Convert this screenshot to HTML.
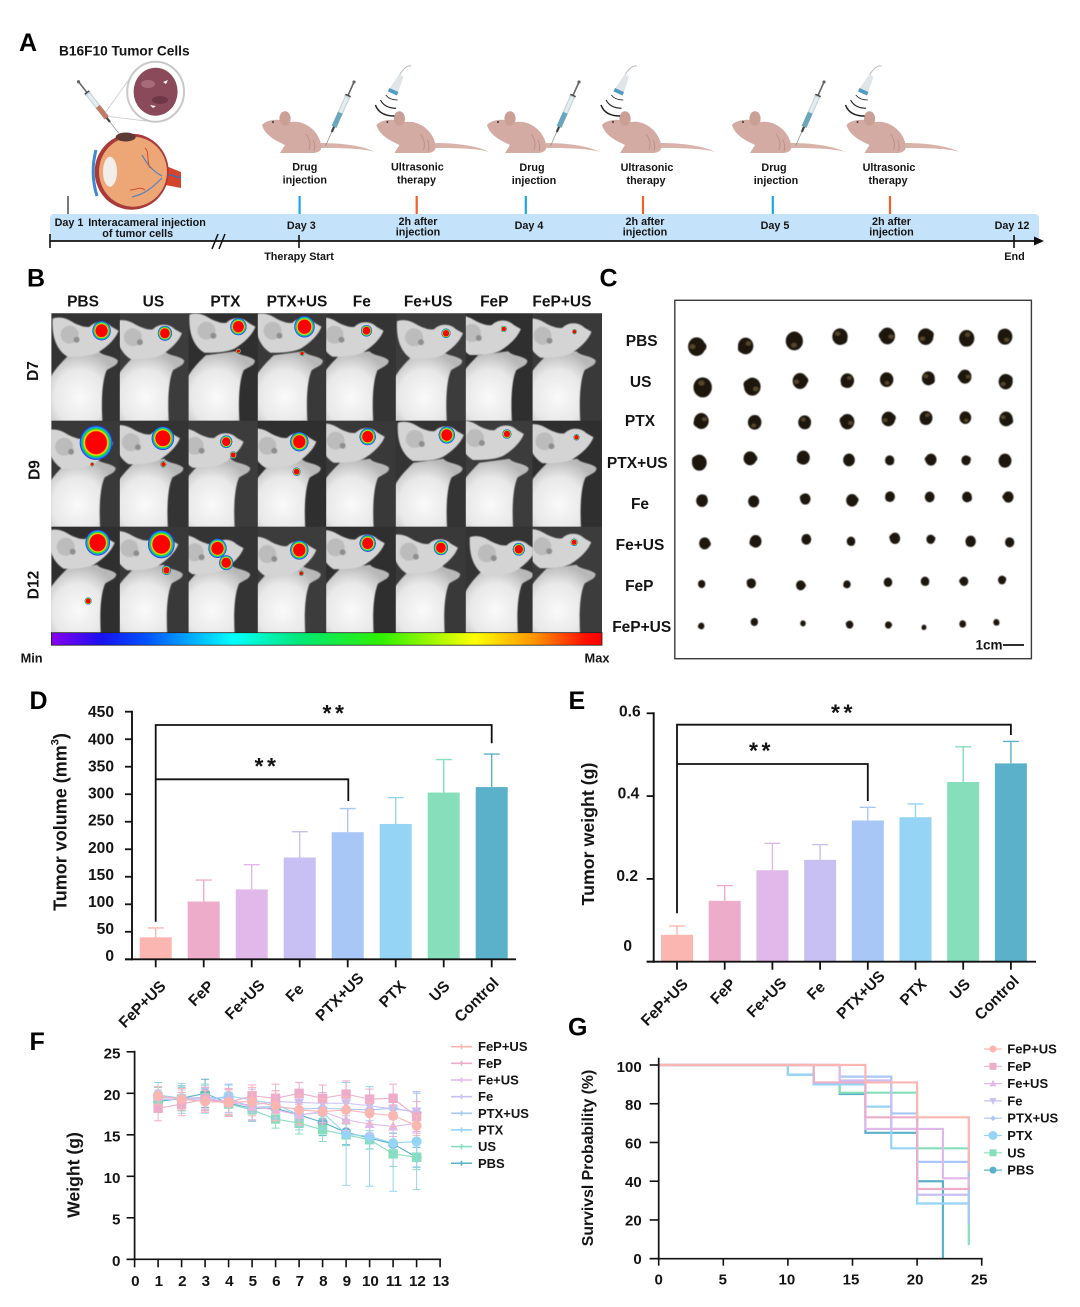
<!DOCTYPE html>
<html lang="en">
<head>
<meta charset="utf-8">
<title>Tumor therapy figure panels A-G</title>
<style>
  html, body { margin: 0; padding: 0; background: #fff; }
  #figure { display: block; width: 1080px; height: 1307px; }
  text { font-family: "Liberation Sans", sans-serif; font-weight: bold; fill: #141414; }
  .panel { font-size: 25px; fill: #000; }
  .tl { font-size: 10.8px; text-anchor: middle; dominant-baseline: central; }
  .hdr { font-size: 15.5px; text-anchor: middle; dominant-baseline: central; }
</style>
</head>
<body>
<svg id="figure" xmlns="http://www.w3.org/2000/svg" width="1080" height="1307" viewBox="0 0 1080 1307">
  <defs>
    <filter id="soft" x="-10%" y="-10%" width="120%" height="120%"><feGaussianBlur stdDeviation="0.6"/></filter>
    <radialGradient id="mouseBody" cx="0.45" cy="0.62" r="0.62">
      <stop offset="0" stop-color="#fafafa"/><stop offset="0.6" stop-color="#e8e8e8"/><stop offset="1" stop-color="#b8b8b8"/>
    </radialGradient>
    <radialGradient id="heat">
      <stop offset="0" stop-color="#ff0000"/><stop offset="0.62" stop-color="#ff0000"/>
      <stop offset="0.7" stop-color="#ffe000"/><stop offset="0.78" stop-color="#20e020"/>
      <stop offset="0.88" stop-color="#10a0f0"/><stop offset="0.96" stop-color="#3030e0"/>
      <stop offset="1" stop-color="#3030e0" stop-opacity="0"/>
    </radialGradient>
    <linearGradient id="rainbow" x1="0" y1="0" x2="1" y2="0">
      <stop offset="0" stop-color="#8a00f0"/><stop offset="0.09" stop-color="#1a10f0"/>
      <stop offset="0.17" stop-color="#0050ff"/><stop offset="0.33" stop-color="#00ffff"/>
      <stop offset="0.45" stop-color="#00e878"/><stop offset="0.6" stop-color="#30f000"/>
      <stop offset="0.77" stop-color="#ffff00"/><stop offset="0.88" stop-color="#ff9000"/>
      <stop offset="0.97" stop-color="#ff1000"/><stop offset="1" stop-color="#ff0000"/>
    </linearGradient>
  </defs>

  <g id="panel-a">
    <text class="panel" x="19" y="51">A</text>
    <text x="59" y="55.5" font-size="13.7">B16F10 Tumor Cells</text>

    <g id="eye">
      <path d="M161,164 L181,172 L181,188 L160,184 Z" fill="#d2452c"/>
      <path d="M160,172 L181,178" stroke="#3a6fc0" stroke-width="1.4" fill="none"/>
      <ellipse cx="131.7" cy="171.7" rx="37" ry="38" fill="#a83b3a"/>
      <ellipse cx="133" cy="171.7" rx="34" ry="35" fill="#eda776"/>
      <path d="M96,150 C92,165 92,180 97,196" stroke="#3f87cf" stroke-width="3" fill="none"/>
      <ellipse cx="110" cy="171.7" rx="7" ry="15" fill="#f2eeea"/>
      <path d="M162,176 C150,170 145,160 142,155 M162,178 C152,188 145,194 132,197" stroke="#4f7fc2" stroke-width="1.1" fill="none"/>
      <path d="M150,168 C146,160 150,152 145,148 M145,190 C140,186 136,190 130,190" stroke="#d0402c" stroke-width="0.9" fill="none"/>
      <ellipse cx="125.7" cy="137" rx="10" ry="4.5" fill="#5d3a35"/>
    </g>
    <g id="cell-lens">
      <path d="M105,113 L130,78 M105,116 L146,121" stroke="#cfcfcf" stroke-width="0.9" fill="none"/>
      <ellipse cx="155.6" cy="91.7" rx="28.4" ry="30" fill="#fff" stroke="#c8c8c8" stroke-width="2"/>
      <ellipse cx="155.6" cy="91.7" rx="22" ry="24" fill="#8a4a5a"/>
      <ellipse cx="148" cy="84" rx="7" ry="4" fill="#a66a78"/>
      <ellipse cx="160" cy="100" rx="8" ry="4" fill="#6e3746"/>
      <path d="M163,82 l5,-2 l-2,4 Z M150,105 l6,1 l-3,2 Z" fill="#fff"/>
    </g>
    <g id="mice-layer"></g>

    <rect x="50" y="214" width="989" height="27" rx="4" fill="#c4e3fb"/>
    <line x1="50" y1="241" x2="1036" y2="241" stroke="#111" stroke-width="1.8"/>
    <path d="M1034,236.5 L1044,241 L1034,245.5 Z" fill="#111"/>
    <line x1="50" y1="234" x2="50" y2="248" stroke="#111" stroke-width="1.6"/>
    <line x1="299" y1="235" x2="299" y2="248" stroke="#111" stroke-width="1.6"/>
    <line x1="1014" y1="235" x2="1014" y2="248" stroke="#111" stroke-width="1.6"/>
    <path d="M212,249 L218,234 M219,249 L225,234" stroke="#111" stroke-width="1.5" fill="none"/>
    <line x1="68" y1="196" x2="68" y2="214" stroke="#222" stroke-width="1.2"/>
    <line x1="299.6" y1="196" x2="299.6" y2="214" stroke="#1aa7e8" stroke-width="2.2"/>
    <line x1="416.7" y1="196" x2="416.7" y2="214" stroke="#f4602a" stroke-width="2.2"/>
    <line x1="525.8" y1="196" x2="525.8" y2="214" stroke="#1aa7e8" stroke-width="2.2"/>
    <line x1="643" y1="196" x2="643" y2="214" stroke="#f4602a" stroke-width="2.2"/>
    <line x1="772.8" y1="196" x2="772.8" y2="214" stroke="#1aa7e8" stroke-width="2.2"/>
    <line x1="890" y1="196" x2="890" y2="214" stroke="#f4602a" stroke-width="2.2"/>

    <text class="tl" x="304.8" y="167.7">Drug</text>
    <text class="tl" x="304.8" y="180.7">injection</text>
    <text class="tl" x="417.4" y="167.7">Ultrasonic</text>
    <text class="tl" x="416.5" y="180.7">therapy</text>
    <text class="tl" x="532" y="168">Drug</text>
    <text class="tl" x="534" y="181">injection</text>
    <text class="tl" x="647" y="168">Ultrasonic</text>
    <text class="tl" x="646" y="181">therapy</text>
    <text class="tl" x="774" y="168">Drug</text>
    <text class="tl" x="776" y="181">injection</text>
    <text class="tl" x="889" y="168">Ultrasonic</text>
    <text class="tl" x="888" y="181">therapy</text>

    <text class="tl" x="69" y="223">Day 1</text>
    <text class="tl" x="147" y="223">Interacameral injection</text>
    <text class="tl" x="137.7" y="234">of tumor cells</text>
    <text class="tl" x="301.3" y="226">Day 3</text>
    <text class="tl" x="418" y="222">2h after</text>
    <text class="tl" x="418" y="232.5">injection</text>
    <text class="tl" x="529" y="226">Day 4</text>
    <text class="tl" x="645" y="222">2h after</text>
    <text class="tl" x="645" y="232.5">injection</text>
    <text class="tl" x="775" y="226">Day 5</text>
    <text class="tl" x="891.5" y="222">2h after</text>
    <text class="tl" x="891.5" y="232.5">injection</text>
    <text class="tl" x="1012" y="226">Day 12</text>
    <text class="tl" x="299" y="257">Therapy Start</text>
    <text class="tl" x="1014.5" y="257">End</text>
  </g>

  <g id="panel-b">
    <text class="panel" x="27" y="286.5">B</text>
    <g id="photo-grid"></g>
    <rect x="51.4" y="632.7" width="550.6" height="12.5" fill="url(#rainbow)" stroke="#222" stroke-width="0.8"/>
    <text class="hdr" x="83" y="302">PBS</text>
    <text class="hdr" x="153.4" y="302">US</text>
    <text class="hdr" x="225.4" y="302">PTX</text>
    <text class="hdr" x="297" y="302">PTX+US</text>
    <text class="hdr" x="361.8" y="302">Fe</text>
    <text class="hdr" x="428.2" y="302">Fe+US</text>
    <text class="hdr" x="494.3" y="302">FeP</text>
    <text class="hdr" x="561.9" y="302">FeP+US</text>
    <text class="hdr" font-size="16.5" transform="translate(33.6 371) rotate(-90)">D7</text>
    <text class="hdr" font-size="16.5" transform="translate(35 470) rotate(-90)">D9</text>
    <text class="hdr" font-size="16.5" transform="translate(34 585) rotate(-90)">D12</text>
    <text x="31.6" y="658" font-size="12.8" text-anchor="middle" dominant-baseline="central">Min</text>
    <text x="597" y="658" font-size="12.8" text-anchor="middle" dominant-baseline="central">Max</text>
  </g>

  <g id="panel-c">
    <text class="panel" x="599.5" y="286.5">C</text>
    <rect x="674.8" y="300.3" width="356.6" height="358.4" fill="#fff" stroke="#3a3a3a" stroke-width="1.4"/>
    <g id="tumor-layer" filter="url(#soft)"></g>
    <text class="hdr" x="641.7" y="341.7">PBS</text>
    <text class="hdr" x="640.7" y="382.7">US</text>
    <text class="hdr" x="640" y="421.7">PTX</text>
    <text class="hdr" x="637.3" y="463.3">PTX+US</text>
    <text class="hdr" x="640" y="504.3">Fe</text>
    <text class="hdr" x="640" y="545.3">Fe+US</text>
    <text class="hdr" x="639.3" y="586.7">FeP</text>
    <text class="hdr" x="641.7" y="627.7">FeP+US</text>
    <text x="989" y="645" font-size="13.5" text-anchor="middle" dominant-baseline="central">1cm</text>
    <line x1="1003" y1="645" x2="1024" y2="645" stroke="#111" stroke-width="1.8"/>
  </g>

  <g id="panel-d">
    <text class="panel" x="29.5" y="709">D</text>
    <text font-size="18" text-anchor="middle" dominant-baseline="central" transform="translate(60.7 822) rotate(-90)">Tumor volume (mm<tspan dy="-5" font-size="11">3</tspan><tspan dy="5">)</tspan></text>
  </g>
  <g id="panel-e">
    <text class="panel" x="568.5" y="709">E</text>
    <text font-size="17.8" text-anchor="middle" dominant-baseline="central" transform="translate(588 834) rotate(-90)">Tumor weight (g)</text>
  </g>
  <g id="panel-f">
    <text class="panel" x="29.5" y="1050">F</text>
    <text font-size="17.6" text-anchor="middle" dominant-baseline="central" transform="translate(73.3 1175) rotate(-90)">Weight (g)</text>
  </g>
  <g id="panel-g">
    <text class="panel" x="568" y="1035.5">G</text>
    <text font-size="15.8" text-anchor="middle" dominant-baseline="central" transform="translate(588.3 1158) rotate(-90)">Survivsl Probability (%)</text>
  </g>
</svg>

<script>
// ---------- chart data ----------
const barCategories = ['FeP+US', 'FeP', 'Fe+US', 'Fe', 'PTX+US', 'PTX', 'US', 'Control'];
const barColors = ['#fcb6b1', '#edadca', '#e0b9ea', '#c8bff3', '#a8c6f6', '#95d4f5', '#86debb', '#5bb0ca'];
const volumeValues = [40, 105, 127, 185, 231, 246, 303, 313];
const volumeErrorTops = [57, 144, 172, 232, 274, 294, 363, 373];
const volumeTicks = [0, 50, 100, 150, 200, 250, 300, 350, 400, 450];
const weightValues = [0.065, 0.147, 0.221, 0.246, 0.341, 0.349, 0.434, 0.479];
const weightErrorTops = [0.086, 0.184, 0.286, 0.283, 0.373, 0.381, 0.519, 0.532];
const weightTicks = [0, 0.2, 0.4, 0.6];

const seriesNames = ['FeP+US', 'FeP', 'Fe+US', 'Fe', 'PTX+US', 'PTX', 'US', 'PBS'];
const seriesColors = ['#fcb6b1', '#edadca', '#e0b9ea', '#c8bff3', '#a8c6f6', '#95d4f5', '#86debb', '#5bb0ca'];
const seriesMarkers = ['circle', 'square', 'up', 'down', 'diamond', 'circle', 'square', 'circle'];

const weightDays = [1, 2, 3, 4, 5, 6, 7, 8, 9, 10, 11, 12];
const weightFepUs = [19.7, 19.3, 19.0, 18.9, 19.0, 18.5, 18.0, 17.8, 18.0, 17.6, 17.3, 16.1];
const weightFep = [18.2, 18.7, 19.3, 18.9, 19.7, 19.4, 20.0, 19.4, 19.9, 19.3, 19.4, 17.2];
const weightFeUs = [19.6, 19.4, 19.4, 19.0, 18.4, 18.0, 17.4, 17.8, 16.8, 16.3, 16.0, 16.4];
const weightFe = [19.3, 19.2, 19.2, 18.8, 18.6, 19.0, 18.9, 18.8, 18.8, 18.5, 18.1, 17.8];
const weightPtxUs = [19.5, 19.4, 19.5, 19.4, 18.3, 18.4, 18.1, 18.2, 18.1, 18.0, 18.2, 17.7];
const weightPtx = [19.8, 19.4, 19.1, 19.7, 19.2, 18.7, 17.4, 17.7, 15.1, 14.8, 14.0, 14.2];
const weightUs = [19.2, 19.3, 19.5, 18.7, 18.0, 16.9, 16.4, 15.6, 15.0, 14.4, 12.7, 12.3];
const weightPbs = [19.0, 19.4, 20.0, 18.8, 18.2, 18.2, 17.4, 16.5, 15.3, 14.6, 13.9, 12.3];

const errFepUs = [1.1, 1.3, 1.3, 1.5, 1.7, 1.8, 1.7, 1.5, 1.6, 1.3, 1.3, 1.2];
const errFep = [1.5, 1.4, 1.4, 1.7, 1.3, 1.7, 1.3, 1.6, 1.6, 1.2, 1.7, 1.8];
const errFeUs = [1.2, 1.2, 1.3, 1.5, 1.6, 1.3, 1.3, 1.3, 1.3, 1.2, 1.2, 1.2];
const errFe = [1.1, 1.2, 1.2, 1.6, 1.9, 1.3, 1.3, 1.3, 1.5, 1.2, 1.2, 2.4];
const errPtxUs = [1.3, 1.2, 1.4, 1.7, 1.6, 1.5, 1.4, 1.4, 1.4, 1.3, 1.2, 2.5];
const errPtx = [1.5, 1.8, 1.5, 1.3, 1.5, 1.6, 1.8, 2.0, 6.2, 6.0, 5.8, 5.8];
const errUs = [1.5, 1.4, 1.6, 1.4, 1.4, 1.1, 1.3, 1.4, 1.3, 1.1, 1.5, 1.5];
const errPbs = [1.1, 1.5, 1.7, 1.6, 1.4, 1.3, 1.5, 1.6, 1.5, 1.3, 1.3, 1.2];

const weightXTicks = [0, 1, 2, 3, 4, 5, 6, 7, 8, 9, 10, 11, 12, 13];
const weightYTicks = [0, 5, 10, 15, 20, 25];

const survTimesFepUs = [0, 16, 20, 24];
const survProbFepUs = [100, 91, 73, 45];
const survTimesFep = [0, 12, 16, 20, 24];
const survProbFep = [100, 91, 73, 36, 38];
const survTimesFeUs = [0, 14, 16, 22, 24];
const survProbFeUs = [100, 91, 67, 41.5, 36];
const survTimesFe = [0, 14, 18, 20, 24];
const survProbFe = [100, 92, 67, 33, 33];
const survTimesPtxUs = [0, 14, 18, 20, 24];
const survProbPtxUs = [100, 94, 75, 50, 18];
const survTimesPtx = [0, 10, 12, 16, 18, 20, 24];
const survProbPtx = [100, 95, 90, 78.5, 57, 28.5, 20];
const survTimesUs = [0, 12, 14, 20, 24];
const survProbUs = [100, 90, 85.7, 57, 7];
const survTimesPbs = [0, 10, 12, 14, 16, 20, 22];
const survProbPbs = [100, 95, 90, 85, 65, 40, 0];
const survivalXTicks = [0, 5, 10, 15, 20, 25];
const survivalYTicks = [0, 20, 40, 60, 80, 100];

// ---------- helpers ----------
const SVG_NS = 'http://www.w3.org/2000/svg';
function el(parent, tag, attrs, text) {
  const n = document.createElementNS(SVG_NS, tag);
  for (const k in attrs) n.setAttribute(k, attrs[k]);
  if (text !== undefined) n.textContent = text;
  parent.appendChild(n);
  return n;
}
function shape(parent, kind, x, y, s, fill) {
  if (kind === 'circle') return el(parent, 'circle', {cx: x, cy: y, r: s, fill: fill});
  if (kind === 'square') return el(parent, 'rect', {x: x - s, y: y - s, width: 2 * s, height: 2 * s, fill: fill});
  let pts;
  if (kind === 'up') pts = [[x, y - s * 1.1], [x + s, y + s * .8], [x - s, y + s * .8]];
  else if (kind === 'down') pts = [[x, y + s * 1.1], [x + s, y - s * .8], [x - s, y - s * .8]];
  else pts = [[x, y - s * 1.1], [x + s * 1.1, y], [x, y + s * 1.1], [x - s * 1.1, y]];
  return el(parent, 'polygon', {points: pts.map(p => p.join(',')).join(' '), fill: fill});
}

// ---------- bar charts (D, E) ----------
function labelNudge(cat) {
  if (cat === 'PTX+US') return [6, -8];
  if (cat === 'Fe') return [-6, 3];
  if (cat === 'US') return [-4, 0];
  if (cat === 'Control') return [-3, -3];
  if (cat === 'Fe+US') return [3, -1];
  return [0, 0];
}
function drawBarChart(root, cfg) {
  const yScale = v => cfg.y0 - v * cfg.yPerUnit;
  const xScale = i => cfg.x0 + i * cfg.step;
  barCategories.forEach((cat, i) => {
    const cx = xScale(i);
    const top = yScale(cfg.values[i]);
    const bar = el(root, 'rect', {x: cx - 16, y: top, width: 32, height: cfg.y0 - top, fill: barColors[i]});
    
    
    const errTop = yScale(cfg.errorTops[i]);
    const err = el(root, 'path', {d: `M${cx},${top} L${cx},${errTop} M${cx - 8},${errTop} L${cx + 8},${errTop}`, stroke: barColors[i], 'stroke-width': 1.4, fill: 'none'});
    
    
    const tick = el(root, 'line', {x1: cx, y1: cfg.y0, x2: cx, y2: cfg.y0 + 8, stroke: '#111', 'stroke-width': 1.8});
    
    
    const n = labelNudge(cat);
    const lx = cx + cfg.labelDx + n[0], ly = cfg.labelY + n[1];
    const label = el(root, 'text', {x: lx, y: ly, 'font-size': 15.5, 'text-anchor': 'end', transform: `rotate(-45 ${lx} ${ly})`}, cat);
    
    
  });
  const yAxis = el(root, 'line', {x1: cfg.axisX, y1: yScale(cfg.ticks[cfg.ticks.length - 1]) - 1, x2: cfg.axisX, y2: cfg.y0 + 1, stroke: '#111', 'stroke-width': 1.9});
  
  
  const xAxis = el(root, 'line', {x1: cfg.axisX - 7, y1: cfg.y0, x2: cfg.xEnd, y2: cfg.y0, stroke: '#111', 'stroke-width': 1.9});
  
  
  cfg.ticks.forEach(t => {
    const ty = yScale(t);
    const tick = el(root, 'line', {x1: cfg.axisX - 7, y1: ty, x2: cfg.axisX, y2: ty, stroke: '#111', 'stroke-width': 1.8});
    
    
    const label = el(root, 'text', {x: cfg.labelRight(t), y: cfg.labelPos(t), 'font-size': 15.6, 'text-anchor': 'end', 'dominant-baseline': 'central'}, String(t));
    
    
  });
  const bLeft = xScale(0), bRight = xScale(7), bMid = xScale(4) + cfg.midNudge;
  const b1 = el(root, 'path', {d: `M${bLeft},${cfg.bLeftBottom} L${bLeft},${cfg.bTop} L${bRight},${cfg.bTop} L${bRight},${cfg.bTopEnd}`, stroke: '#111', 'stroke-width': 1.8, fill: 'none'});
  
  
  const b2 = el(root, 'path', {d: `M${bLeft},${cfg.bMidY} L${bMid},${cfg.bMidY} L${bMid},${cfg.bMidEnd}`, stroke: '#111', 'stroke-width': 1.8, fill: 'none'});
  
  
  const s1 = el(root, 'text', {x: cfg.star1[0], y: cfg.star1[1] + 10.5, 'font-size': 23, 'text-anchor': 'middle', 'letter-spacing': 3.5, 'font-weight': 'normal', fill: '#333'}, '**');
  
  
  const s2 = el(root, 'text', {x: cfg.star2[0], y: cfg.star2[1] + 10.5, 'font-size': 23, 'text-anchor': 'middle', 'letter-spacing': 3.5, 'font-weight': 'normal', fill: '#333'}, '**');
  
  
}
drawBarChart(document.getElementById('panel-d'), {
  values: volumeValues, errorTops: volumeErrorTops, ticks: volumeTicks,
  y0: 959.3, yPerUnit: 247.6 / 450, x0: 155.7, step: 48, axisX: 132, xEnd: 516,
  labelDx: 11, labelY: 987, labelRight: () => 114, labelPos: t => 956.7 - t * 0.5422,
  bTop: 725, bLeftBottom: 921.7, bTopEnd: 743.3, bMidY: 779.3, bMidEnd: 801, midNudge: 0.6,
  star1: [335, 710.7], star2: [267, 763.3]
});
drawBarChart(document.getElementById('panel-e'), {
  values: weightValues, errorTops: weightErrorTops, ticks: weightTicks,
  y0: 961.7, yPerUnit: 248.4 / 0.6, x0: 677, step: 47.7, axisX: 653.7, xEnd: 1036,
  labelDx: 12, labelY: 985, labelRight: t => t === 0 ? 632 : 636.7 + t * 6.6,
  labelPos: t => t === 0 ? 946.7 : 958.5 - t * 411,
  bTop: 724.7, bLeftBottom: 913.3, bTopEnd: 735, bMidY: 764, bMidEnd: 801, midNudge: 0,
  star1: [843.5, 710], star2: [761.5, 748]
});

// ---------- line chart with error bars (F) ----------
const weightMeans = [weightFepUs, weightFep, weightFeUs, weightFe, weightPtxUs, weightPtx, weightUs, weightPbs];
const weightErrs = [errFepUs, errFep, errFeUs, errFe, errPtxUs, errPtx, errUs, errPbs];
(function () {
  const root = document.getElementById('panel-f');
  const xF = d => 134.6 + d * 23.5;
  const yF = v => 1259.3 - v * 8.3;
  for (let s = seriesNames.length - 1; s >= 0; s--) {
    const g = el(root, 'g', {});
    
    
    const col = seriesColors[s];
    const pts = weightDays.map((d, i) => xF(d) + ',' + yF(weightMeans[s][i])).join(' ');
    const line = el(g, 'polyline', {points: pts, fill: 'none', stroke: col, 'stroke-width': 1.1});
    
    
    weightDays.forEach((d, i) => {
      const x = xF(d), up = yF(weightMeans[s][i] + weightErrs[s][i]), lo = yF(weightMeans[s][i] - weightErrs[s][i]);
      const e = el(g, 'path', {d: `M${x},${up} L${x},${lo} M${x - 4},${up} L${x + 4},${up} M${x - 4},${lo} L${x + 4},${lo}`, stroke: col, 'stroke-width': 1, fill: 'none'});
      
      
    });
    weightDays.forEach((d, i) => {
      const m = shape(g, seriesMarkers[s], xF(d), yF(weightMeans[s][i]), seriesMarkers[s] === 'square' ? 4.7 : 5, col);
      
      
    });
  }
  const yAxis = el(root, 'line', {x1: xF(0), y1: yF(25) - 1, x2: xF(0), y2: yF(0) + 1, stroke: '#111', 'stroke-width': 1.7});
  
  
  const xAxis = el(root, 'line', {x1: xF(0) - 8, y1: yF(0), x2: xF(13) + 1, y2: yF(0), stroke: '#111', 'stroke-width': 1.7});
  
  
  weightYTicks.forEach(t => {
    const tick = el(root, 'line', {x1: xF(0) - 8, y1: yF(t), x2: xF(0), y2: yF(t), stroke: '#111', 'stroke-width': 1.6});
    
    
    const lab = el(root, 'text', {x: 120.5, y: yF(t) + 2, 'font-size': 15.2, 'text-anchor': 'end', 'dominant-baseline': 'central'}, String(t));
    
    
  });
  weightXTicks.forEach(t => {
    const tick = el(root, 'line', {x1: xF(t), y1: yF(0), x2: xF(t), y2: yF(0) + 8, stroke: '#111', 'stroke-width': 1.6});
    
    
    const lab = el(root, 'text', {x: xF(t) + 0.8, y: 1281.7, 'font-size': 15.2, 'text-anchor': 'middle', 'dominant-baseline': 'central'}, String(t));
    
    
  });
  seriesNames.forEach((name, s) => {
    const ly = 1046.7 + s * 16.65;
    const k = el(root, 'path', {d: `M451,${ly} L472,${ly} M461.5,${ly - 2.5} L461.5,${ly + 2.5}`, stroke: seriesColors[s], 'stroke-width': 1.6, fill: 'none'});
    
    
    const t = el(root, 'text', {x: 478, y: ly, 'font-size': 13, 'dominant-baseline': 'central'}, name);
    
    
  });
})();

// ---------- survival chart (G) ----------
const survivalTimes = [survTimesFepUs, survTimesFep, survTimesFeUs, survTimesFe, survTimesPtxUs, survTimesPtx, survTimesUs, survTimesPbs];
const survivalProbs = [survProbFepUs, survProbFep, survProbFeUs, survProbFe, survProbPtxUs, survProbPtx, survProbUs, survProbPbs];
(function () {
  const root = document.getElementById('panel-g');
  const xG = t => 658.7 + t * 12.92;
  const yG = p => 1258.7 - p * 1.937;
  for (let s = seriesNames.length - 1; s >= 0; s--) {
    const ts = survivalTimes[s], ps = survivalProbs[s];
    let d = `M${xG(ts[0])},${yG(ps[0])}`;
    for (let i = 1; i < ts.length; i++) d += ` L${xG(ts[i])},${yG(ps[i - 1])} L${xG(ts[i])},${yG(ps[i])}`;
    const line = el(root, 'path', {d: d, fill: 'none', stroke: seriesColors[s], 'stroke-width': 2.2});
    
    
  }
  const yAxis = el(root, 'line', {x1: xG(0), y1: 1057.7, x2: xG(0), y2: yG(0) + 1, stroke: '#111', 'stroke-width': 1.7});
  
  
  const xAxis = el(root, 'line', {x1: xG(0) - 9, y1: yG(0), x2: xG(25) + 1, y2: yG(0), stroke: '#111', 'stroke-width': 1.7});
  
  
  survivalYTicks.forEach(t => {
    const tick = el(root, 'line', {x1: xG(0) - 9, y1: yG(t), x2: xG(0), y2: yG(t), stroke: '#111', 'stroke-width': 1.6});
    
    
    const lab = el(root, 'text', {x: 641.7, y: 1259.3 - t * 1.92, 'font-size': 15, 'text-anchor': 'end', 'dominant-baseline': 'central'}, String(t));
    
    
  });
  survivalXTicks.forEach(t => {
    const tick = el(root, 'line', {x1: xG(t), y1: yG(0), x2: xG(t), y2: yG(0) + 7, stroke: '#111', 'stroke-width': 1.6});
    
    
    const lab = el(root, 'text', {x: xG(t) - t * 0.1, y: 1280, 'font-size': 15, 'text-anchor': 'middle', 'dominant-baseline': 'central'}, String(t));
    
    
  });
  seriesNames.forEach((name, s) => {
    const ly = 1049 + s * 17.3;
    const k = el(root, 'line', {x1: 984, y1: ly, x2: 1002, y2: ly, stroke: seriesColors[s], 'stroke-width': 1.2});
    
    
    const mk = shape(root, seriesMarkers[s], 993, ly, s === 5 ? 4.5 : (s === 4 ? 2.5 : 3.5), seriesColors[s]);
    
    
    const t = el(root, 'text', {x: 1007.3, y: ly, 'font-size': 13, 'dominant-baseline': 'central'}, name);
    
    
  });
})();

// ---------- panel B photo mosaic ----------
const cellEdgesX = [51.4, 119.8, 188.6, 257.8, 326.2, 395.8, 465.8, 532.6, 601.8];
const cellEdgesY = [313.3, 420.7, 526.7, 632.7];
const mainSpots = [
  [[101.6, 330.7, 8], [164.9, 333.3, 6], [238.4, 326.7, 7], [304.5, 326.7, 9], [366.5, 330.7, 4.5], [446, 333.3, 3.5], [503.8, 329, 2], [574.5, 331.7, 1.5]],
  [[96.1, 442.7, 15], [162.9, 438.3, 10], [226.2, 441.7, 5], [299.3, 441.7, 8], [367.7, 436.7, 7], [446.8, 435, 7], [506.9, 434, 3.5], [576.5, 437.3, 2]],
  [[97.7, 542.7, 11], [161.3, 544.3, 12], [217.5, 548.3, 8], [299.3, 550, 8], [367.7, 543.3, 7], [440.9, 547.7, 6], [518.8, 549.3, 5], [574.2, 542.3, 2.5]]
];
const extraSpots = [[238.4, 351, 1.5], [302.1, 353.3, 1.5], [92.1, 464.3, 1], [163.3, 464.3, 2], [233.3, 455, 2.5], [296.6, 471.7, 3], [88.2, 601, 2.5], [166.5, 570.3, 3.5], [226.2, 562.7, 6], [301.3, 573.3, 1.5]];
const mouseBodyPath = 'M-2,112 L-2,68 C2,58 10,50 18,42 L48,38 C52,43 62,42 67,47 C68,52 60,54 56,57 C52,66 50,84 52,112 Z';
const mouseHeadPath = 'M18,46 C8,40 2,28 3,8 C10,5 18,8 24,12 C30,15 36,17 40,16 C46,10 56,10 62,16 L69,20 C66,28 58,36 48,42 C38,46 28,46 18,46 Z';
(function () {
  const grid = document.getElementById('photo-grid');
  const defs = document.querySelector('defs');
  const bg = el(grid, 'rect', {x: 51.4, y: 313.3, width: 550.6, height: 319.4, fill: '#333'});
  
  
  for (let r = 0; r < 3; r++) for (let c = 0; c < 8; c++) {
    const x = cellEdgesX[c], y = cellEdgesY[r], w = cellEdgesX[c + 1] - x, h = cellEdgesY[r + 1] - y;
    const clipId = 'cell-' + r + '-' + c;
    const cp = el(defs, 'clipPath', {id: clipId});
    el(cp, 'rect', {x: x, y: y, width: w, height: h});
    const cell = el(grid, 'g', {'clip-path': `url(#${clipId})`});
    
    
    const shade = (r * 3 + c * 5) % 4;
    el(cell, 'rect', {x: x, y: y, width: w, height: h, fill: ['#343434', '#3c3c3c', '#2f2f2f', '#393939'][shade]});
    const sp = mainSpots[r][c];
    const dx = Math.max(-14, Math.min(10, sp[0] - x - 52)), dy = sp[1] - y - 20;
    const m = el(cell, 'g', {filter: 'url(#soft)'});
    
    
    el(m, 'path', {d: mouseBodyPath, fill: 'url(#mouseBody)', transform: `translate(${x + Math.min(4, dx * 0.4)} ${y})`});
    const head = el(m, 'g', {transform: `translate(${x + dx} ${y + dy})`});
    el(head, 'path', {d: mouseHeadPath, fill: '#d4d4d4'});
    el(head, 'ellipse', {cx: 20, cy: 24, rx: 9, ry: 9, fill: '#bcbcbc'});
    el(head, 'ellipse', {cx: 27, cy: 29, rx: 3, ry: 3, fill: '#8e8e8e'});
  }
  const drawSpot = s => {
    const R = s[2] * 1.05 + 1;
    const h = el(grid, 'ellipse', {cx: s[0], cy: s[1], rx: R, ry: R * 1.05, fill: 'url(#heat)'});
    
    
  };
  mainSpots.forEach(row => row.forEach(drawSpot));
  extraSpots.forEach(drawSpot);
})();

// ---------- panel C tumors (source coordinates on a 3x grid) ----------
const tumorRows = [
  [[290, 245, 28], [437, 243, 25], [583, 228, 28], [720, 215, 25], [862, 213, 25], [977, 215, 25], [1100, 220, 25], [1215, 215, 24]],
  [[308, 367, 30], [457, 365, 27], [600, 348, 24], [742, 347, 22], [860, 344, 22], [985, 340, 21], [1095, 335, 21], [1217, 350, 23]],
  [[304, 468, 24], [464, 472, 22], [614, 472, 21], [742, 470, 23], [865, 462, 22], [978, 459, 21], [1096, 458, 19], [1218, 462, 22]],
  [[298, 593, 24], [450, 580, 21], [610, 578, 21], [747, 585, 19], [869, 586, 15], [993, 584, 18], [1098, 586, 15], [1215, 587, 21]],
  [[306, 707, 19], [461, 709, 18], [616, 702, 17], [756, 706, 19], [870, 695, 16], [989, 696, 16], [1101, 696, 16], [1225, 696, 17]],
  [[314, 835, 18], [467, 829, 19], [619, 823, 16], [753, 829, 14], [885, 820, 17], [992, 823, 14], [1112, 829, 17], [1229, 832, 15]],
  [[305, 957, 12], [454, 955, 15], [602, 961, 15], [741, 958, 12], [864, 952, 14], [975, 949, 14], [1092, 949, 14], [1206, 945, 13]],
  [[304, 1083, 10], [463, 1071, 12], [609, 1075, 9], [749, 1079, 12], [865, 1080, 11], [972, 1087, 8], [1088, 1077, 11], [1189, 1072, 10]]
];
(function () {
  const layer = document.getElementById('tumor-layer');
  tumorRows.forEach((row, ri) => row.forEach((t, ci) => {
    const cx = t[0] / 3 + 600, cy = t[1] / 3 + 265, r = t[2] / 3;
    const g = el(layer, 'g', {});
    
    
    const a = (ci * 2.4 + ri * 1.3);
    el(g, 'ellipse', {cx: cx, cy: cy, rx: r * 0.92, ry: r, fill: '#1d1710'});
    el(g, 'ellipse', {cx: cx + Math.cos(a) * r * .45, cy: cy + Math.sin(a) * r * .45, rx: r * .6, ry: r * .55, fill: '#1d1710'});
    if (ri < 3) el(g, 'ellipse', {cx: cx - Math.cos(a) * r * .45, cy: cy - Math.sin(a) * r * .45, rx: r * .32, ry: r * .26, fill: '#54442a'});
  }));
})();

// ---------- panel A illustrations ----------
const mouseOrigins = [262, 376.4, 487, 602, 732, 846.5];
const mouseKinds = ['syringe', 'probe', 'syringe', 'probe', 'syringe', 'probe'];
function drawSyringe(g, x0, y0, x1, y1, liquid) {
  const at = t => [x0 + (x1 - x0) * t, y0 + (y1 - y0) * t];
  const seg = (a, b, color, w) => {
    const p = at(a), q = at(b);
    return el(g, 'line', {x1: p[0], y1: p[1], x2: q[0], y2: q[1], stroke: color, 'stroke-width': w});
  };
  seg(0, 1, '#8a8a8a', 0.7);
  seg(0, 0.22, '#666', 1.6);
  const p0 = at(0);
  el(g, 'circle', {cx: p0[0], cy: p0[1], r: 1.6, fill: '#666'});
  seg(0.2, 0.24, '#444', 5.8);
  seg(0.22, 0.7, '#c8d5dc', 5.5);
  seg(0.24, 0.68, '#e4edf1', 3);
  seg(0.48, 0.7, liquid, 5);
  seg(0.7, 0.78, '#444', 2.2);
}
(function () {
  const layer = document.getElementById('mice-layer');
  mouseOrigins.forEach((ox, i) => {
    const g = el(layer, 'g', {transform: `translate(${ox} 112)`});
    
    
    el(g, 'path', {d: 'M59,31 C75,31 100,33 113,40 C100,36 75,36 59,36 Z', fill: '#d9b3aa'});
    el(g, 'path', {d: 'M0,13 C3,9 12,7 18,8 L29,10 C42,8 56,18 59,32 C60,38 58,40 52,41 L30,41 L24,41 L18,41 L23,33 C15,29 3,24 0,13 Z', fill: '#d3aba3'});
    el(g, 'ellipse', {cx: 23, cy: 6.5, rx: 5.6, ry: 7.2, fill: '#c99f96'});
    el(g, 'circle', {cx: 11, cy: 10, r: 1, fill: '#333'});
    el(g, 'path', {d: 'M44,22 C48,27 49,33 47,38 M51,28 C53,32 53,36 52,39', stroke: '#bf9087', 'stroke-width': 1, fill: 'none'});
    if (mouseKinds[i] === 'syringe') {
      drawSyringe(g, 92, -30, 63.5, 34, '#6aa6bb');
    } else {
      el(g, 'path', {d: 'M35,-46 C30,-47 26,-42 23,-37', stroke: '#b8b8b8', 'stroke-width': 1, fill: 'none'});
      el(g, 'path', {d: 'M23,-38 L27,-35 L21,-18 L12,-22 Z', fill: '#dfe5e8'});
      el(g, 'path', {d: 'M13,-24 L22,-20 L20.5,-16.5 L11.5,-20.5 Z', fill: '#4f9cc4'});
      el(g, 'path', {d: 'M9.3,-17 Q13,-12 21.3,-12', stroke: '#222', 'stroke-width': 0.8, fill: 'none'});
      el(g, 'path', {d: 'M4.1,-12 Q8,-4 19.6,-3.7', stroke: '#222', 'stroke-width': 1.1, fill: 'none'});
      el(g, 'path', {d: 'M-1,-7 Q3,4 18,4', stroke: '#222', 'stroke-width': 1.5, fill: 'none'});
    }
  });
  const eyeSyringe = el(document.getElementById('panel-a'), 'g', {});
  
  
  drawSyringe(eyeSyringe, 78.5, 81.7, 118.8, 133.3, '#c07a66');
})();
</script>
</body>
</html>
